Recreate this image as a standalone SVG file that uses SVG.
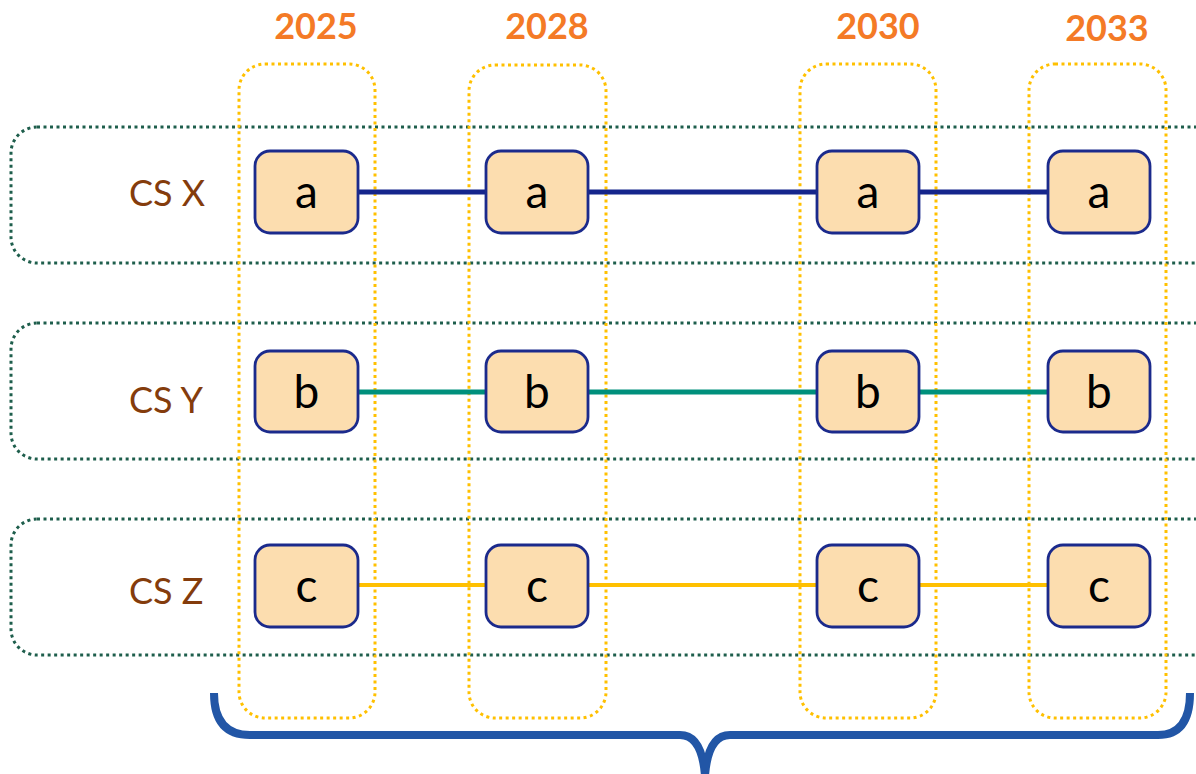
<svg xmlns="http://www.w3.org/2000/svg" width="1196" height="774" viewBox="0 0 1196 774">
<style>
.band{fill:none;stroke:#1E5E4C;stroke-width:3;stroke-dasharray:3 3.5}
.col{fill:none;stroke:#FFC000;stroke-width:3;stroke-dasharray:3 3.5}
.node rect{fill:#FCDDAF;stroke:#1B2A8C;stroke-width:2.8}
.node text{font-family:Lato,"Liberation Sans",sans-serif;font-size:46px;fill:#000;text-anchor:middle}
.year{font-family:Lato,"Liberation Sans",sans-serif;font-size:36px;font-weight:bold;fill:#F47A26;text-anchor:middle}
.cs{font-family:Lato,"Liberation Sans",sans-serif;font-size:36px;fill:#843C0C}
</style>
<rect width="1196" height="774" fill="#ffffff"/>
<g id="rows">
<rect class="band" x="11" y="127" width="1260" height="136" rx="26"/>
<rect class="band" x="11" y="323" width="1260" height="136" rx="26"/>
<rect class="band" x="11" y="519" width="1260" height="136" rx="26"/>
</g>
<g id="columns">
<rect class="col" x="239" y="64" width="136" height="654" rx="26"/>
<rect class="col" x="469" y="65" width="137" height="653" rx="26"/>
<rect class="col" x="800" y="64" width="136" height="654" rx="26"/>
<rect class="col" x="1029" y="64" width="137" height="654" rx="26"/>
</g>
<g id="years">
<text class="year" x="316" y="39">2025</text>
<text class="year" x="547" y="39">2028</text>
<text class="year" x="878" y="39">2030</text>
<text class="year" x="1107" y="41">2033</text>
</g>
<g id="labels">
<text class="cs" x="129" y="206">CS X</text>
<text class="cs" x="129" y="413">CS Y</text>
<text class="cs" x="129" y="604">CS Z</text>
</g>
<g id="connectors">
<line x1="358" y1="192" x2="1048" y2="192" stroke="#15258C" stroke-width="5"/>
<line x1="358" y1="392" x2="1048" y2="392" stroke="#00907C" stroke-width="5"/>
<line x1="358" y1="585" x2="1048" y2="585" stroke="#FFC000" stroke-width="4"/>
</g>
<g id="node-a1" class="node"><rect x="255" y="151" width="103" height="82" rx="15"/><text x="306.5" y="208">a</text></g>
<g id="node-a2" class="node"><rect x="486" y="151" width="102" height="82" rx="15"/><text x="537" y="208">a</text></g>
<g id="node-a3" class="node"><rect x="817" y="151" width="102" height="82" rx="15"/><text x="868" y="208">a</text></g>
<g id="node-a4" class="node"><rect x="1048" y="151" width="102" height="82" rx="15"/><text x="1099" y="208">a</text></g>
<g id="node-b1" class="node"><rect x="255" y="351" width="103" height="81" rx="15"/><text x="306.5" y="408">b</text></g>
<g id="node-b2" class="node"><rect x="486" y="351" width="102" height="81" rx="15"/><text x="537" y="408">b</text></g>
<g id="node-b3" class="node"><rect x="817" y="351" width="102" height="81" rx="15"/><text x="868" y="408">b</text></g>
<g id="node-b4" class="node"><rect x="1048" y="351" width="102" height="81" rx="15"/><text x="1099" y="408">b</text></g>
<g id="node-c1" class="node"><rect x="255" y="545" width="103" height="82" rx="15"/><text x="306.5" y="602">c</text></g>
<g id="node-c2" class="node"><rect x="486" y="545" width="102" height="82" rx="15"/><text x="537" y="602">c</text></g>
<g id="node-c3" class="node"><rect x="817" y="545" width="102" height="82" rx="15"/><text x="868" y="602">c</text></g>
<g id="node-c4" class="node"><rect x="1048" y="545" width="102" height="82" rx="15"/><text x="1099" y="602">c</text></g>
<g id="brace">
<path d="M214,693 Q214,735 250,735 L680,735 Q702,735 705,776 Q708,735 730,735 L1158,735 Q1190,735 1190,693" fill="none" stroke="#2256A6" stroke-width="8"/>
</g>
</svg>
